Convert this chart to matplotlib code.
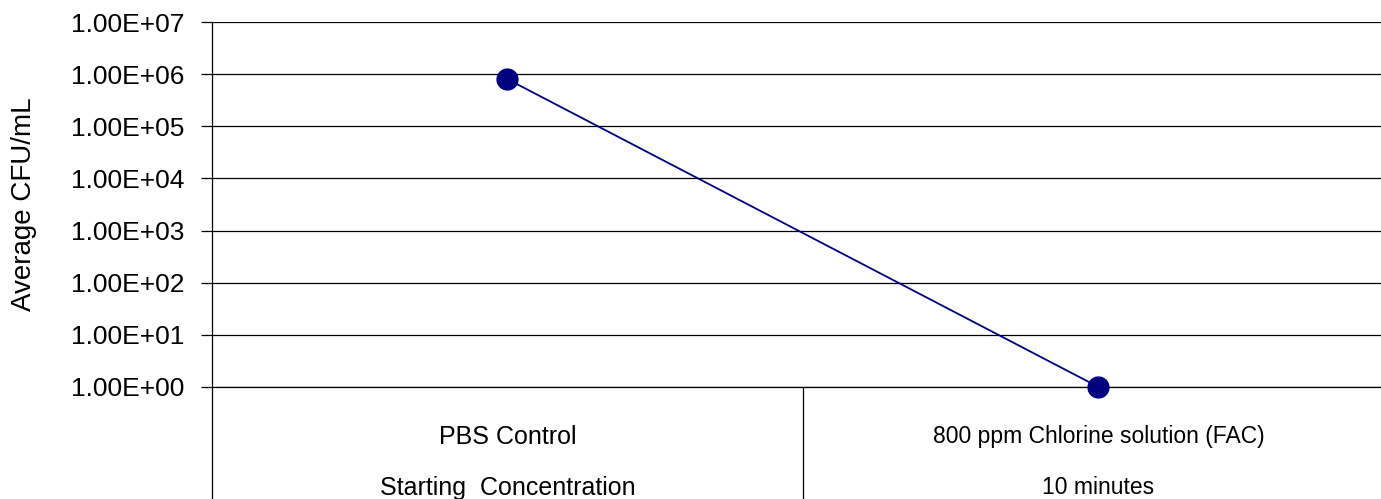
import matplotlib.pyplot as plt
import matplotlib.ticker as mticker
from matplotlib.lines import Line2D

plt.rcParams['font.family'] = ['Liberation Sans', 'DejaVu Sans']

# data
groups = ["PBS Control", "800 ppm Chlorine solution (FAC)"]
times = ["Starting  Concentration", "10 minutes"]
cfu = [8.0e5, 1.0]

fig = plt.figure(figsize=(13.81, 4.99), dpi=100)
W, H = 1381, 499
x0, x1 = 212, 1394
ytop, ybot = 22, 387
ax = fig.add_axes([x0 / W, 1 - ybot / H, (x1 - x0) / W, (ybot - ytop) / H])

xs = list(range(len(cfu)))
ax.plot(xs, cfu, color="#000080", lw=1.3, marker="o", ms=15, zorder=3, clip_on=False)

ax.set_yscale("log")
ax.set_ylim(1, 1e7)
ax.set_xlim(-0.5, len(cfu) - 0.5)
ax.yaxis.set_major_locator(mticker.LogLocator(base=10, numticks=10))
ax.yaxis.set_minor_locator(mticker.NullLocator())
ax.yaxis.set_major_formatter(mticker.FuncFormatter(lambda v, p: "%.2E" % v))
ax.grid(axis="y", color="black", lw=0.9)
ax.tick_params(axis="y", length=8, width=0.9, labelsize=19, pad=12, direction="out")
ax.set_xticks([])
for s in ["top", "right"]:
    ax.spines[s].set_visible(False)
ax.spines["left"].set_linewidth(0.9)
ax.spines["bottom"].set_linewidth(0.9)
ax.set_ylabel("Average CFU/mL", fontsize=20)
ax.yaxis.set_label_coords((37 - x0) / (x1 - x0), 0.5)

# category table below the axis
trans = ax.get_xaxis_transform()
for b in [-0.5, 0.5]:
    ax.add_line(Line2D([b, b], [0, -112 / (ybot - ytop)], transform=trans,
                       color="black", lw=0.9, clip_on=False))
sizes = [18, 16.5]
for i in xs:
    ax.text(i, -50 / (ybot - ytop), groups[i], transform=trans, ha="center",
            va="center", fontsize=sizes[i])
    ax.text(i, -101 / (ybot - ytop), times[i], transform=trans, ha="center",
            va="center", fontsize=sizes[i])

fig.savefig("out.png", dpi=100)
